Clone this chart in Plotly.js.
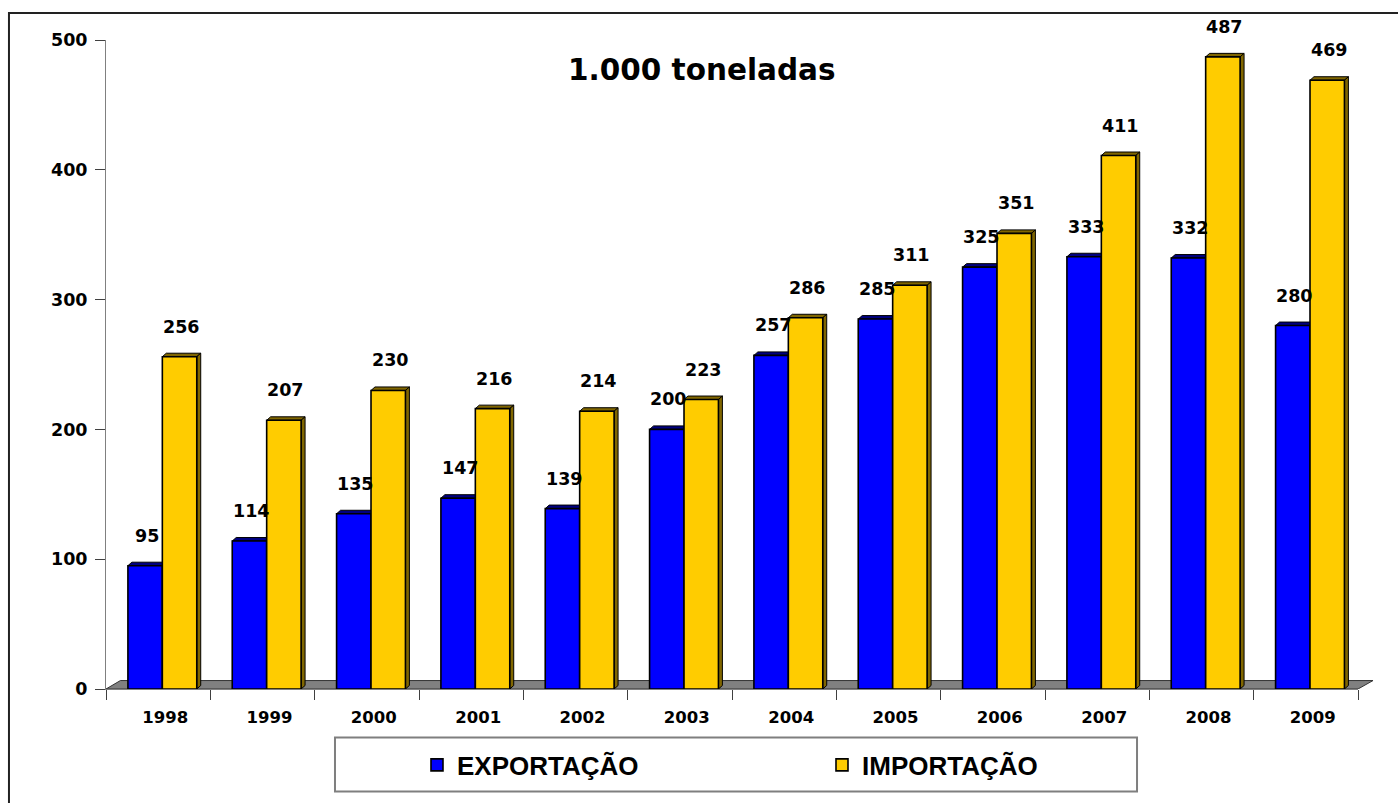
<!DOCTYPE html>
<html>
<head>
<meta charset="utf-8">
<script src="https://cdn.plot.ly/plotly-3.0.1.min.js"></script>
<style>html,body{margin:0;padding:0;background:#fff;}#chart{width:1398px;height:803px;}</style>
</head>
<body>
<div id="chart"></div>
<script>
// ---- data ----
const years = ["1998","1999","2000","2001","2002","2003","2004","2005","2006","2007","2008","2009"];
const exportacao = [95, 114, 135, 147, 139, 200, 257, 285, 325, 333, 332, 280];
const importacao = [256, 207, 230, 216, 214, 223, 286, 311, 351, 411, 487, 469];
const seriesNames = ["EXPORTAÇÃO", "IMPORTAÇÃO"];
const titleText = "1.000 toneladas";

// ---- style ----
const BLUE = "#0000FF", BLUE_DARK = "#000080";
const YELLOW = "#FFCC00", YELLOW_DARK = "#806600";
const W = 0.33;            // bar width (category units)
const OFF_E = -0.29;       // export bar left offset
const OFF_I = 0.04;        // import bar left offset
const DX = 0.038, DY = 2.7; // 3D depth (x units, y units)
const numFont = {family: "DejaVu Sans, Verdana, sans-serif", size: 17.5, color: "#000", weight: "bold"};

const xs = years.map((_, i) => i);

const traces = [
  {type: "bar", name: seriesNames[0], x: xs, y: exportacao, width: W, offset: OFF_E,
   marker: {color: BLUE, line: {color: "#000", width: 1.6}}, hoverinfo: "skip"},
  {type: "bar", name: seriesNames[1], x: xs, y: importacao, width: W, offset: OFF_I,
   marker: {color: YELLOW, line: {color: "#000", width: 1.6}}, hoverinfo: "skip"}
];

const shapes = [];
// floor (x in paper so it can extend past the plot edge)
shapes.push({type: "path", xref: "paper", yref: "y", layer: "below",
  path: `M 0,0 L 1,0 L 1.012,6.5 L 0.0115,6.5 Z`,
  fillcolor: "#808080", line: {color: "#333", width: 1}});

function faces(vals, off, topColor, withSide) {
  vals.forEach((v, i) => {
    const L = i + off, R = i + off + W;
    shapes.push({type: "path", xref: "x", yref: "y", layer: "below",
      path: `M ${L},${v} L ${L + DX},${v + DY} L ${R + DX},${v + DY} L ${R},${v} Z`,
      fillcolor: topColor, line: {color: "#000", width: 1}});
    if (withSide) {
      shapes.push({type: "path", xref: "x", yref: "y", layer: "below",
        path: `M ${R},${v} L ${R + DX},${v + DY} L ${R + DX},${DY} L ${R},0 Z`,
        fillcolor: topColor, line: {color: "#000", width: 1}});
    }
  });
}
faces(exportacao, OFF_E, BLUE_DARK, false);
faces(importacao, OFF_I, YELLOW_DARK, true);

// outer chart border
shapes.push({type: "rect", xref: "paper", yref: "paper", layer: "above",
  x0: -0.0775, x1: 1.3, y0: -0.4, y1: 1.0416, line: {color: "#222", width: 2}, fillcolor: "rgba(0,0,0,0)"});
// legend box
shapes.push({type: "rect", xref: "paper", yref: "paper", layer: "above",
  x0: 0.1829, x1: 0.8235, y0: -0.1579, y1: -0.0747, line: {color: "#7f7f7f", width: 2}, fillcolor: "rgba(0,0,0,0)"});

const annotations = [];
function labels(vals, off) {
  vals.forEach((v, i) => {
    annotations.push({x: i + off + W / 2 + DX / 2, y: v, xref: "x", yref: "y",
      text: String(v), showarrow: false, yanchor: "bottom", yshift: 18, font: numFont});
  });
}
labels(exportacao, OFF_E);
labels(importacao, OFF_I);

const layout = {
  width: 1398, height: 803,
  margin: {l: 106, r: 40, t: 40, b: 114},
  paper_bgcolor: "#fff", plot_bgcolor: "#fff",
  title: {text: titleText, x: 0.502, xref: "container", xanchor: "center",
          y: 1 - 70 / 803, yref: "container", yanchor: "middle",
          font: {family: "DejaVu Sans, Verdana, sans-serif", size: 29.5, color: "#000", weight: "bold"}},
  barmode: "overlay",
  showlegend: true,
  legend: {orientation: "h", x: 0.2484, xanchor: "left", y: -0.117, yanchor: "middle",
           bgcolor: "rgba(0,0,0,0)", borderwidth: 0, entrywidth: 360, entrywidthmode: "pixels",
           font: {family: "Liberation Sans, Arial, sans-serif", size: 26, color: "#000", weight: "bold"}},
  xaxis: {type: "linear", range: [-0.5, 11.5], tickmode: "array", tickvals: xs, ticktext: years,
          ticks: "", showline: true, linecolor: "#808080", linewidth: 1, showgrid: false, zeroline: false,
          ticklabelshift: 7, ticklabelstandoff: 13,
          tickfont: {family: "DejaVu Sans, Verdana, sans-serif", size: 16.5, color: "#000", weight: "bold"},
          minor: {tickmode: "linear", tick0: -0.5, dtick: 1, ticks: "outside", ticklen: 10, tickcolor: "#404040", tickwidth: 1, showgrid: false},
          fixedrange: true},
  yaxis: {range: [0, 500], tickmode: "linear", tick0: 0, dtick: 100, ticks: "outside", ticklen: 10,
          tickcolor: "#404040", showline: true, linecolor: "#808080", linewidth: 1,
          showgrid: false, zeroline: false, ticklabelstandoff: 4,
          tickfont: numFont, fixedrange: true},
  shapes: shapes,
  annotations: annotations,
  hovermode: false
};

Plotly.newPlot("chart", traces, layout, {displayModeBar: false, staticPlot: true});
</script>
</body>
</html>
